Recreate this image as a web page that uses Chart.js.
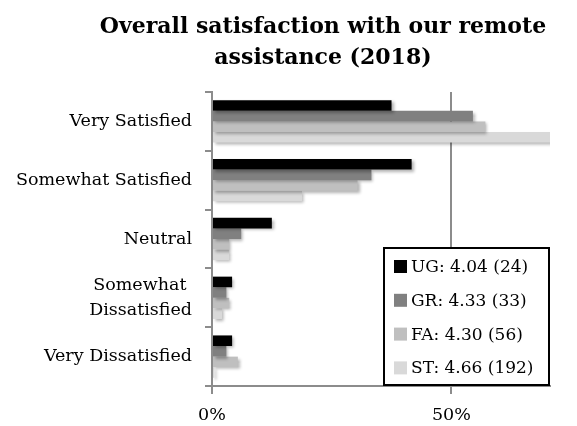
<!DOCTYPE html>
<html>
<head>
<meta charset="utf-8">
<script src="https://cdn.jsdelivr.net/npm/chart.js@4.4.1/dist/chart.umd.min.js"></script>
<style>
  html, body { margin: 0; padding: 0; background: #fff; }
  canvas { display: block; }
</style>
</head>
<body>
<canvas id="chart" width="577" height="426"></canvas>
<script>
// Chart data (percent of respondents)
const categories = ['Very Satisfied', 'Somewhat Satisfied', 'Neutral', ['Somewhat ', 'Dissatisfied'], 'Very Dissatisfied'];
const seriesNames = ['UG: 4.04 (24)', 'GR: 4.33 (33)', 'FA: 4.30 (56)', 'ST: 4.66 (192)'];
const ugValues = [37.5, 41.7, 12.5, 4.2, 4.2];
const grValues = [54.5, 33.3, 6.1, 3.0, 3.0];
const faValues = [57.1, 30.4, 3.6, 3.6, 5.4];
const stValues = [75.0, 18.8, 3.6, 2.1, 0.5];
const xTicks = [0, 50];
const xMax = 70.6;
const titleLines = ['Overall satisfaction with our remote', 'assistance (2018)'];

const seriesColors = ['#000000', '#808080', '#bfbfbf', '#d9d9d9'];
const axisGray = '#8c8c8c';

Chart.defaults.font.family = "'DejaVu Serif', serif";
Chart.defaults.color = '#000';

// title is off-centre in the original (centred on the old Excel chart box)
const offsetTitle = {
    id: 'offsetTitle',
    afterDraw(chart) {
        const ctx = chart.ctx;
        ctx.save();
        ctx.font = "bold 22px 'DejaVu Serif', serif";
        ctx.fillStyle = '#000';
        ctx.textAlign = 'center';
        ctx.textBaseline = 'middle';
        titleLines.forEach((line, i) => {
            ctx.fillText(line, 323, 27 + i * 31);
        });
        ctx.restore();
    }
};

// soft drop shadow under the bars, like the Excel original
const barShadow = {
    id: 'barShadow',
    beforeDatasetsDraw(chart) {
        const ctx = chart.ctx;
        ctx.save();
        ctx.shadowColor = 'rgba(0,0,0,0.3)';
        ctx.shadowBlur = 3;
        ctx.shadowOffsetX = 2;
        ctx.shadowOffsetY = 2;
    },
    afterDatasetsDraw(chart) {
        chart.ctx.restore();
    }
};

// boxed legend sitting in the bottom right corner of the plot
const boxLegend = {
    id: 'boxLegend',
    afterDraw(chart) {
        const ctx = chart.ctx;
        const area = chart.chartArea;
        const w = 165, h = 137;
        const left = area.right - w - 1;
        const top = area.bottom - h - 1;

        ctx.save();
        ctx.fillStyle = '#fff';
        ctx.fillRect(left, top, w, h);
        ctx.strokeStyle = '#000';
        ctx.lineWidth = 2;
        ctx.strokeRect(left, top, w, h);

        ctx.font = "17px 'DejaVu Serif', serif";
        ctx.textBaseline = 'middle';
        ctx.textAlign = 'left';
        chart.data.datasets.forEach((ds, i) => {
            const cy = top + 18.5 + i * 33.8;
            ctx.fillStyle = ds.backgroundColor;
            ctx.fillRect(left + 10, cy - 6.5, 13, 13);
            ctx.fillStyle = '#000';
            ctx.fillText(ds.label, left + 27, cy + 1);
        });
        ctx.restore();
    }
};

const allValues = [ugValues, grValues, faValues, stValues];

new Chart(document.getElementById('chart'), {
    type: 'bar',
    data: {
        labels: categories,
        datasets: seriesNames.map((name, i) => ({
            label: name,
            data: allValues[i],
            backgroundColor: seriesColors[i],
            borderWidth: 0,
            categoryPercentage: 0.72,
            barPercentage: 1.0
        }))
    },
    options: {
        indexAxis: 'y',
        responsive: false,
        animation: false,
        layout: { padding: { left: 0, right: 27, top: 92, bottom: 0 } },
        plugins: {
            legend: { display: false },
            tooltip: { enabled: false },
            title: { display: false }
        },
        scales: {
            x: {
                min: 0,
                max: xMax,
                afterBuildTicks: (scale) => {
                    scale.ticks = xTicks.map(v => ({ value: v }));
                },
                afterFit: (scale) => { scale.height = 40; },
                grid: {
                    color: axisGray,
                    lineWidth: 2,
                    drawTicks: true,
                    tickLength: 8
                },
                border: { color: axisGray, width: 2 },
                ticks: {
                    padding: 11,
                    font: { size: 17.5 },
                    callback: (v) => v + '%'
                }
            },
            y: {
                afterFit: (scale) => { scale.width = 212; },
                grid: {
                    offset: true,
                    drawOnChartArea: false,
                    drawTicks: true,
                    tickLength: 7,
                    color: axisGray,
                    lineWidth: 2
                },
                border: { color: axisGray, width: 2 },
                ticks: {
                    padding: 13,
                    font: { size: 17.5, lineHeight: 1.4 }
                }
            }
        }
    },
    plugins: [barShadow, boxLegend, offsetTitle]
});
</script>
</body>
</html>
